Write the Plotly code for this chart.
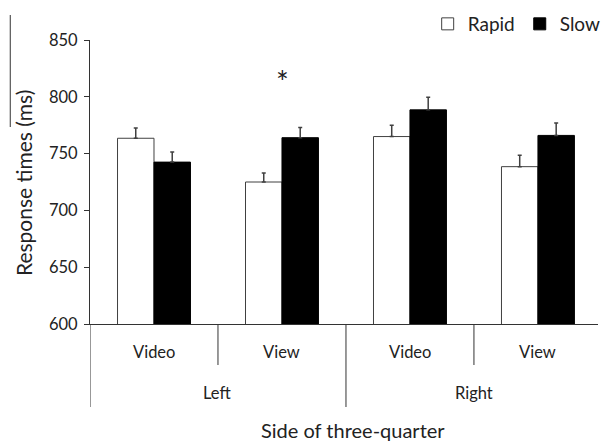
import plotly.graph_objects as go

# ---- data ----
sides = ["Left", "Right"]
views = ["Video", "View", "Video", "View"]
categories = ["Left Video", "Left View", "Right Video", "Right View"]
rapid = [763.5, 725, 765, 738.5]
rapid_err = [9, 8, 10, 10]
slow = [742.5, 764, 788.5, 766]
slow_err = [9, 9, 11, 11]
yticks = [600, 650, 700, 750, 800, 850]
sig_category = 1
sig_value = 814

FONT = "Lato"
LINE = "#333333"

fig = go.Figure()
fig.add_trace(go.Bar(
    name="Rapid", x=categories, y=rapid,
    marker=dict(color="white", line=dict(color="#404040", width=1)),
    error_y=dict(type="data", array=rapid_err, arrayminus=[0]*4, symmetric=False,
                 color="#404040", thickness=1.5, width=2),
))
fig.add_trace(go.Bar(
    name="Slow", x=categories, y=slow,
    marker=dict(color="black", line=dict(color="black", width=1)),
    error_y=dict(type="data", array=slow_err, arrayminus=[0]*4, symmetric=False,
                 color="#404040", thickness=1.5, width=2),
))

W, H = 606, 441
L, R, T, B = 90, 0, 40, 117
pw, ph = W - L - R, H - T - B

def px2py(py):
    return (H - B - py) / ph

def px2px(px):
    return (px - L) / pw

fig.update_layout(
    width=W, height=H,
    margin=dict(l=L, r=R, t=T, b=B, pad=0),
    plot_bgcolor="white", paper_bgcolor="white",
    barmode="group", bargap=0.43, bargroupgap=0,
    font=dict(family=FONT, color="#222222", size=16),
    legend=dict(orientation="h", x=px2px(433), y=px2py(5), xanchor="left", yanchor="top",
                font=dict(family=FONT, size=19, color="#222222"), bgcolor="rgba(0,0,0,0)",
                traceorder="normal"),
    showlegend=True,
)
fig.update_xaxes(range=[-0.5, -0.5 + pw / 130], showline=True, linecolor=LINE, linewidth=1,
                 showticklabels=False, ticks="", showgrid=False, zeroline=False)
fig.update_yaxes(range=[600, 850], tickvals=yticks, ticks="outside", ticklen=5, tickcolor=LINE,
                 showline=True, linecolor=LINE, linewidth=1, showgrid=False, zeroline=False,
                 ticklabelstandoff=3,
                 tickfont=dict(family=FONT, size=16.5, color="#222222"))

# hierarchical category labels
for i, v in enumerate(views):
    fig.add_annotation(x=i, y=px2py(352), xref="x", yref="paper", text=v, showarrow=False,
                       font=dict(family=FONT, size=16.5, color="#222222"), yanchor="middle")
for j, s in enumerate(sides):
    fig.add_annotation(x=2 * j + 0.5, y=px2py(393), xref="x", yref="paper", text=s, showarrow=False,
                       font=dict(family=FONT, size=16.5, color="#222222"), yanchor="middle")

# dividers
for xv, bottom in [(-0.5, 407), (0.5, 365), (1.5, 407), (2.5, 365)]:
    fig.add_shape(type="line", xref="x", yref="paper", x0=xv, x1=xv, y0=0, y1=px2py(bottom),
                  line=dict(color=LINE, width=1))

# stray frame line at far left
fig.add_shape(type="line", xref="paper", yref="paper", x0=px2px(9), x1=px2px(9),
              y0=px2py(15), y1=px2py(127), line=dict(color=LINE, width=1))

# significance marker
fig.add_annotation(x=sig_category, y=sig_value, xref="x", yref="y", text="*", showarrow=False,
                   font=dict(family=FONT, size=30, color="#222222"), xshift=1)

# titles
fig.add_annotation(x=px2px(357), y=px2py(430), xref="paper", yref="paper", text="Side of three-quarter",
                   showarrow=False, font=dict(family=FONT, size=20, color="#222222"), yanchor="middle")
fig.add_annotation(x=px2px(22), y=px2py(183), xref="paper", yref="paper", text="Response times (ms)",
                   showarrow=False, textangle=-90, font=dict(family=FONT, size=21, color="#222222"),
                   xanchor="center", yanchor="middle")

fig.write_html("out.html", post_script="document.body.style.margin='0';",
               config={"displayModeBar": False})
